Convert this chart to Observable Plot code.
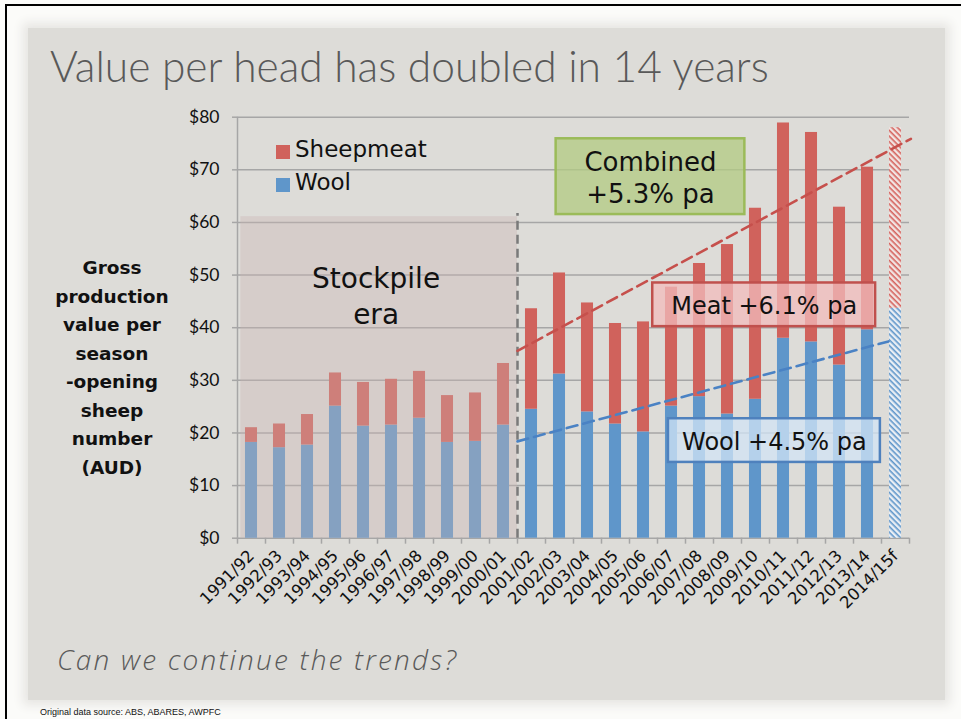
<!DOCTYPE html>
<html>
<head>
<meta charset="utf-8">
<script src="https://cdn.jsdelivr.net/npm/d3@7"></script>
<script src="https://cdn.jsdelivr.net/npm/@observablehq/plot@0.6"></script>
<style>
  html, body { margin: 0; padding: 0; }
  body { width: 961px; height: 719px; position: relative; overflow: hidden; background: #fbfbf9; font-family: "DejaVu Sans", sans-serif; }
  #frameTop { position: absolute; left: 5px; top: 4px; width: 956px; height: 2px; background: #000; }
  #frameLeft { position: absolute; left: 5px; top: 4px; width: 2px; height: 715px; background: #000; }
  #panel { position: absolute; left: 28px; top: 28px; width: 917px; height: 672px; background: #dddcd8; box-shadow: 0 0 10px 5px #e6e5e2; }
  #title { position: absolute; left: 50px; top: 40px; font-family: "Lato", sans-serif; font-weight: 300; font-size: 42.5px; color: #595959; white-space: nowrap; }
  #question { position: absolute; left: 57px; top: 640px; font-family: "Open Sans", sans-serif; font-weight: 300; font-style: italic; font-size: 28px; letter-spacing: 2.2px; color: #595959; white-space: nowrap; }
  #footer { position: absolute; left: 40px; top: 707px; font-family: "Liberation Sans Narrow", "Liberation Sans", sans-serif; font-size: 9px; color: #111; white-space: nowrap; }
  #ylabel { position: absolute; left: 52px; top: 254px; width: 120px; text-align: center; font-weight: bold; font-size: 18.5px; line-height: 28.5px; color: #111; }
  #chart { position: absolute; left: 0; top: 100px; }
  .leg { position: absolute; font-size: 23px; color: #111; white-space: nowrap; }
  .sw { position: absolute; width: 14px; height: 14px; }
</style>
</head>
<body>
<div id="frameTop"></div>
<div id="frameLeft"></div>
<div id="panel"></div>
<div id="title">Value per head has doubled in 14 years</div>
<div id="ylabel">Gross<br>production<br>value per<br>season<br>-opening<br>sheep<br>number<br>(AUD)</div>
<div id="chart"></div>
<div class="sw" style="left:276px;top:145px;background:#d0625c"></div>
<div class="leg" style="left:295px;top:136px">Sheepmeat</div>
<div class="sw" style="left:276px;top:178px;background:#5f96ca"></div>
<div class="leg" style="left:295px;top:169px">Wool</div>
<div id="question">Can we continue the trends?</div>
<div id="footer">Original data source: ABS, ABARES, AWPFC</div>
<script>
// ---- data ----
const categories = ["1991/92","1992/93","1993/94","1994/95","1995/96","1996/97","1997/98","1998/99","1999/00","2000/01",
  "2001/02","2002/03","2003/04","2004/05","2005/06","2006/07","2007/08","2008/09","2009/10","2010/11","2011/12","2012/13","2013/14","2014/15f"];
const wool =      [18.2,17.2,17.7,25.1,21.3,21.5,22.8,18.2,18.4,21.5,24.5,31.2,24.0,21.7,20.2,25.1,26.9,23.6,26.4,38.0,37.3,32.9,39.6,43.7];
const sheepmeat = [ 2.8, 4.5, 5.8, 6.3, 8.3, 8.7, 8.9, 8.9, 9.2,11.7,19.1,19.2,20.7,19.1,20.9,22.6,25.3,32.2,36.3,40.9,39.8,30.0,30.9,34.3];
const forecastIndex = [23];
const yTicks = [0,10,20,30,40,50,60,70,80];
// trend lines (index position, value)
const meatTrend = [{i: 9.5, v: 35.6}, {i: 23.55, v: 75.9}];
const woolTrend = [{i: 9.5, v: 18.4}, {i: 22.75, v: 37.4}];
const dividerAt = [9.5];
const stockpile = [{x1: -0.38, x2: 9.5, y1: 0, y2: 61.1, label: "Stockpile\nera", lx: 4.45, ly: 46.3}];
const boxes = [
  {x1: 10.88, x2: 17.62, y1: 61.5, y2: 75.9, label: "Combined\n+5.3% pa", fill: "rgb(177,203,129)", stroke: "#9bbb59", size: 26},
  {x1: 14.33, x2: 22.29, y1: 40.2, y2: 48.5, label: "Meat +6.1% pa", fill: "rgb(241,188,188)", stroke: "#c0504d", size: 24},
  {x1: 14.89, x2: 22.46, y1: 14.4, y2: 22.7, label: "Wool +4.5% pa", fill: "rgb(210,228,246)", stroke: "#4f81bd", size: 24}
];

// ---- table ----
const rows = categories.map((c, i) => ({i, cat: c, wool: wool[i], meat: sheepmeat[i], forecast: forecastIndex.includes(i)}));
const hw = 0.215;
const actual = rows.filter(d => !d.forecast);
const fcast = rows.filter(d => d.forecast);
const boundaries = d3.range(0, categories.length + 1).map(k => k - 0.5);

const plot = Plot.plot({
  width: 961,
  height: 530,
  marginLeft: 237,
  marginRight: 52,
  marginTop: 16.7,
  marginBottom: 92.3,
  style: {fontFamily: "DejaVu Sans, sans-serif", fontSize: "15px", background: "transparent", color: "#111", overflow: "visible"},
  x: {type: "linear", domain: [-0.5, categories.length - 0.5], axis: null},
  y: {domain: [0, 80], axis: null},
  marks: [
    Plot.ruleY(yTicks, {stroke: "#a6a6a6", strokeWidth: 1.5}),
    Plot.ruleX([-0.5], {y1: 0, y2: 80, stroke: "#a6a6a6", strokeWidth: 1.5}),
    Plot.axisY({ticks: yTicks, tickFormat: d => "$" + d, tickSize: 5, tickPadding: 13, stroke: "#a6a6a6", strokeWidth: 1.5, fontSize: 17.5, fontFamily: "Lato, sans-serif", label: null, fill: "#111"}),
    Plot.axisX({ticks: boundaries, tickSize: 6, tickFormat: () => "", stroke: "#a6a6a6", strokeWidth: 1.5, label: null}),
    Plot.axisX({ticks: d3.range(categories.length), tickSize: 0, tickPadding: 15, tickRotate: -45, tickFormat: i => categories[i], fontSize: 16.5, label: null, fill: "#111"}),
    Plot.rectY(actual, {x1: d => d.i - hw, x2: d => d.i + hw, y1: 0, y2: d => d.wool, fill: "#5f96ca"}),
    Plot.rectY(actual, {x1: d => d.i - hw, x2: d => d.i + hw, y1: d => d.wool, y2: d => d.wool + d.meat, fill: "#d0625c"}),
    Plot.rectY(fcast, {x1: d => d.i - hw, x2: d => d.i + hw, y1: 0, y2: d => d.wool, fill: "url(#hatchBlue)"}),
    Plot.rectY(fcast, {x1: d => d.i - hw, x2: d => d.i + hw, y1: d => d.wool, y2: d => d.wool + d.meat, fill: "url(#hatchRed)"}),
    Plot.rect(stockpile, {x1: "x1", x2: "x2", y1: "y1", y2: "y2", fill: "rgb(201,180,177)", fillOpacity: 0.36}),
    Plot.text(stockpile, {x: "lx", y: "ly", text: "label", fontSize: 28, lineHeight: 1.3, lineAnchor: "middle", fill: "#111"}),
    Plot.ruleX(dividerAt, {y1: 0, y2: 61.7, stroke: "#7a7a7a", strokeWidth: 2.5, strokeDasharray: "9,5"}),
    Plot.line(woolTrend, {x: "i", y: "v", stroke: "#4a82c4", strokeWidth: 2.6, strokeDasharray: "11,6"}),
    Plot.line(meatTrend, {x: "i", y: "v", stroke: "#c6504c", strokeWidth: 2.6, strokeDasharray: "11,6"}),
    Plot.rect(boxes, {x1: "x1", x2: "x2", y1: "y1", y2: "y2", fill: "fill", fillOpacity: 0.75, stroke: "stroke", strokeWidth: 2.5}),
    Plot.text(boxes, {x: d => (d.x1 + d.x2) / 2, y: d => (d.y1 + d.y2) / 2, text: "label", fontSize: d => d.size, lineHeight: 1.25, lineAnchor: "middle", fill: "#111"})
  ]
});

// hatch patterns for the forecast bar
const defs = d3.select(plot).insert("defs", ":first-child");
function hatch(id, bg, fg) {
  const p = defs.append("pattern").attr("id", id).attr("patternUnits", "userSpaceOnUse")
    .attr("width", 4).attr("height", 4).attr("patternTransform", "rotate(45)");
  p.append("rect").attr("width", 4).attr("height", 4).attr("fill", bg);
  p.append("rect").attr("width", 4).attr("height", 1.6).attr("fill", fg);
}
hatch("hatchRed", "#f1e4e2", "#d5635d");
hatch("hatchBlue", "#e9eef4", "#5f96ca");

document.getElementById("chart").appendChild(plot);
</script>
</body>
</html>
